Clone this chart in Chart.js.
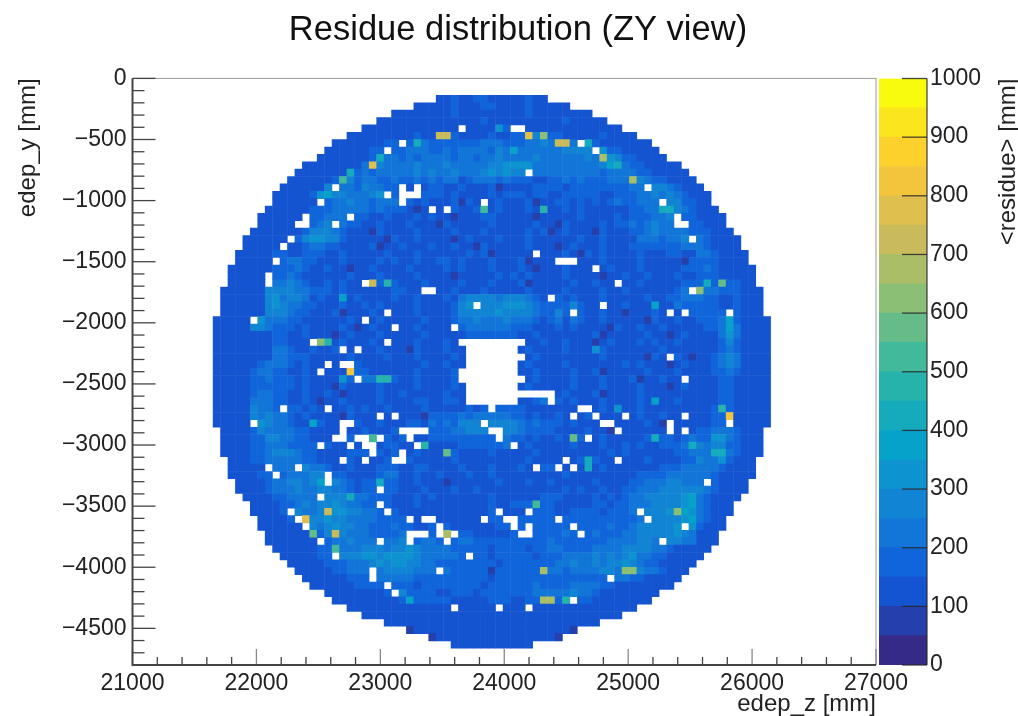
<!DOCTYPE html>
<html>
<head>
<meta charset="utf-8">
<title>Residue distribution (ZY view)</title>
<script src="https://cdn.jsdelivr.net/npm/chart.js@4"></script>
<style>
  html, body { margin: 0; padding: 0; background: #fff; }
  #wrap { position: relative; width: 1018px; height: 716px; overflow: hidden; }
  canvas { filter: blur(0.5px); }
  #mapChart { position: absolute; left: 0; top: 0; }
  #barChart { position: absolute; left: 879px; top: 0; }
</style>
</head>
<body>
<div id="wrap">
  <canvas id="mapChart" width="1018" height="716"></canvas>
  <canvas id="barChart" width="139" height="716"></canvas>
</div>
<script>
// Bin layout of the histogram
const zStart = 21650, zBin = 60;
const yStart = -139, yBin = 60.33;

const xTicks = [21000, 22000, 23000, 24000, 25000, 26000, 27000];
const yTicks = [0, -500, -1000, -1500, -2000, -2500, -3000, -3500, -4000, -4500];
const barTicks = [0, 100, 200, 300, 400, 500, 600, 700, 800, 900, 1000];

// 20 contour colours, lowest first
const palette = [
  "#352a87", "#253fab", "#1554d0", "#1065db", "#1275d8", "#1284d4", "#0c93d0", "#07a2ca", "#15abbc", "#26b3ac",
  "#41b99a", "#66bc88", "#8bbf75", "#aabd67", "#c9bb5c", "#dfbf4d", "#f2c53c", "#fdd12c", "#fbe61d", "#f9fb0e"
];

// <residue> per cell, one string per row from the top: base-20 contour index, "." = empty.
// Spaces only split the columns in groups of five.
const rows = [
  "..... ..... ..... ..... ..... ..... 22322 33222 22322 ..... ..... ..... ..... ..... .....",
  "..... ..... ..... ..... ..... ..222 22322 23322 22322 222.. ..... ..... ..... ..... .....",
  "..... ..... ..... ..... ....2 22222 22322 22222 22322 22222 2.... ..... ..... ..... .....",
  "..... ..... ..... ..... ..222 22222 22222 23222 22222 22322 222.. ..... ..... ..... .....",
  "..... ..... ..... ..... 22222 22222 222.2 22263 ..222 22222 22222 ..... ..... ..... .....",
  "..... ..... ..... ...22 22222 22322 ee322 22322 33f5c 33222 22322 22... ..... ..... .....",
  "..... ..... ..... .2222 22233 .3843 33333 34443 33445 4ee4. 83222 2222. ..... ..... .....",
  "..... ..... ..... 22222 233.3 34443 34344 44354 74444 44555 5.633 22222 ..... ..... .....",
  "..... ..... ....2 22222 23844 34344 44344 34454 44454 44444 54d65 33222 2.... ..... .....",
  "..... ..... ..222 22222 4f544 44544 45444 44556 66644 44444 44578 43322 222.. ..... .....",
  "..... ..... .2222 22283 43444 44545 44544 45656 55.44 44444 44344 44332 2222. ..... .....",
  "..... ..... 22222 23a53 44334 33434 34423 44434 33322 33434 33344 4d543 32222 ..... .....",
  "..... ....2 22222 5.443 54433 .2.23 32232 22312 22233 33233 33333 344.5 54322 2.... .....",
  "..... ...22 22236 75544 456.3 ...33 32322 22323 33233 22333 33223 33445 45432 22... .....",
  "..... ...22 2222. 34454 43444 .3232 22313 2.232 22312 23323 23234 33444 .5533 22... .....",
  "..... ..222 22233 34444 43433 3212. 2.322 3a232 22329 22323 22222 23344 88543 222.. .....",
  "..... .2222 22.33 444.3 32232 22323 22122 23322 22212 22223 22223 23334 45.33 2222. .....",
  "..... .2222 2..34 5.433 22322 23222 13222 22322 22232 21322 22323 34345 44..3 3222. .....",
  "..... 22222 22355 54322 21322 22322 22322 23222 22323 12322 21322 23345 44443 33222 .....",
  "....2 22222 .3566 55322 22213 22322 22123 22232 22322 22223 22322 22444 3445. 43222 2....",
  "....2 2222. 22344 33222 23122 32223 22322 13222 22322 21232 22322 23333 33344 43222 2....",
  "...22 22233 22333 22322 22232 22322 22223 23122 222.2 22321 32322 22322 23322 44322 22...",
  "...22 222.3 44332 22322 22323 22322 33232 22322 23122 2...2 22322 22322 22213 33322 22...",
  "..222 22233 34322 32212 23222 23222 23232 22322 23212 22322 2.232 22322 22233 34322 222..",
  "..222 22.33 43222 22232 22322 22322 22122 22232 32322 22322 22122 32232 22322 33322 222..",
  "..222 22.44 54322 32322 .e393 22232 22232 22322 23122 22232 2322. 22322 22233 383b3 322..",
  ".2222 22555 54433 32322 22223 322.. 22322 23222 22322 22322 22322 32222 2234. c4433 3222.",
  ".2222 22564 55423 22723 22223 22322 23245 55545 55432 .3232 22322 22232 23344 43322 3222.",
  ".2222 22565 44332 22322 32322 22322 22356 .5556 66543 33353 22.22 32227 22433 33322 3222.",
  ".2222 22555 43322 23122 232.2 22322 22355 55565 55543 353.3 22322 12223 2.2.3 3333. 3222.",
  "22222 .6444 33222 22232 .2322 22232 22344 54445 44432 34243 22322 22213 22322 33347 32222",
  "22222 55433 32322 22321 2322. 22322 22.34 44444 33322 23232 22213 22322 32222 23347 42222",
  "22222 22233 22322 21232 22322 22232 22223 33333 32232 22222 23122 22232 21232 22246 42222",
  "22222 22233 222.c 92322 232.2 22322 232.. ..... ..223 22322 21232 22323 22322 22235 32222",
  "22222 22244 32232 23.2. 22322 21322 2322. ..... .2322 22322 26322 22222 32222 22234 32222",
  "22222 22244 33322 22232 22232 22322 2232. ..... ..232 22222 22322 22213 2.321 22345 42222",
  "22222 23444 32322 .2..3 22222 22232 2322. ..... .2322 22322 22222 32322 21232 22345 42222",
  "22222 34433 2232. 222g3 32222 22322 223.. ..... .2232 22232 23122 22232 22322 22334 32222",
  "22222 33433 32322 2263. 44993 22322 223.. ..... ..232 22232 22322 23122 322.2 22233 22222",
  "22222 33333 32322 21322 22322 22322 2232. ..... .2322 22232 22322 22322 21232 22233 22222",
  "22222 34433 22322 32122 22322 32222 2322. ..... ..... .2322 23122 22322 22222 22233 22222",
  "22222 44433 22321 22322 22322 22332 2332. ..... .2234 .3232 22322 22327 22322 22233 22222",
  "22222 5443. 33232 .2232 32232 22232 22223 23.33 33222 2222. .2326 22322 22222 22393 22222",
  "22222 54544 32322 22132 22.2. 22213 33343 44444 33232 232.2 3.222 .2322 322.2 2233g 22222",
  "22222 .6544 32273 22..3 22322 23324 34355 5.555 54343 33232 22..2 22232 1.222 2233. 22222",
  ".2222 35444 43322 22.22 32223 ....3 33445 55..5 54333 32222 3221. 22222 2.2.2 33444 3222.",
  ".2222 33554 43322 2..3. .a.32 3.223 33333 333.4 33232 232b3 .2322 22238 33234 33664 3222.",
  ".2222 33444 3333. 322.2 ..233 22.92 22233 33334 .2322 22232 22322 32322 33348 54553 3222.",
  ".2222 33455 54332 22233 3.323 .2322 2b322 22322 22232 22222 22232 32222 22334 44884 3222.",
  "..222 33444 44332 22.32 .223. .3222 22322 22222 22322 22.23 8322. 22232 22233 54463 222..",
  "..222 22.44 4.544 32232 22333 22332 22232 22322 232.3 3.2.2 82322 22222 33344 44432 222..",
  "..222 233.3 44455 .3322 22344 22322 32223 22322 22222 22322 22222 22333 34444 44322 222..",
  "...22 22344 55457 .5432 33833 22322 21222 22232 22322 32222 23222 23344 45544 4.322 22...",
  "...22 22344 45445 54432 33.33 22232 22322 32222 22222 22323 22322 33444 55555 54322 22...",
  "....2 22233 4444. 55584 43332 22323 22222 22322 22223 33222 23232 34455 55567 43222 2....",
  "..... 22223 34545 56544 33.32 22322 22222 22322 333a3 32222 23323 34445 55567 43222 .....",
  "..... 22223 .5445 e6655 443.3 22222 22222 223.2 22.33 32233 33233 34.55 56c76 43222 .....",
  "..... .2222 3.f55 65544 44333 3.2.. 22222 2.33. .3333 3.333 33333 334.5 55567 4322. .....",
  "..... .2222 22.54 56554 43334 33223 .3222 22233 .3.33 333.3 33343 34555 556.6 3222. .....",
  "..... ..222 222b3 5e544 43333 4...3 .d.33 22222 3..33 3343. 34333 44555 55654 222.. .....",
  "..... ..222 2222. 34454 44.44 5.344 3.344 33333 33333 43333 33344 44554 .5544 222.. .....",
  "..... ...22 22223 3a444 55545 56544 44333 33233 33233 44333 34444 55554 43222 22... .....",
  "..... ....2 22223 3.555 66566 66544 4443. 33233 33323 33444 45454 56443 32222 2.... .....",
  "..... ..... 22222 33344 45656 65544 33333 33323 33333 34454 45455 65433 22222 ..... .....",
  "..... ..... .2222 23344 4.455 55444 .4333 33133 3333d 44344 44554 cc544 3222. ..... .....",
  "..... ..... ..222 22233 3.444 44333 33333 33233 33333 33333 333.4 43322 222.. ..... .....",
  "..... ..... ...22 22223 333.3 33233 33333 32333 33343 33344 44332 22222 22... ..... .....",
  "..... ..... ..... 22222 2223. 53333 22333 23333 33344 44454 43222 22222 ..... ..... .....",
  "..... ..... ..... .2222 22222 37333 33222 22333 2233d d39.3 32222 2222. ..... ..... .....",
  "..... ..... ..... ...22 22222 22222 22.22 222.2 22.22 22222 22222 22... ..... ..... .....",
  "..... ..... ..... ..... 22222 22222 22222 22222 22222 22222 22222 ..... ..... ..... .....",
  "..... ..... ..... ..... ...22 22222 22222 22222 22222 22222 22... ..... ..... ..... .....",
  "..... ..... ..... ..... ..... .1222 22222 22222 22222 2221. ..... ..... ..... ..... .....",
  "..... ..... ..... ..... ..... ....1 22222 22222 22222 21... ..... ..... ..... ..... .....",
  "..... ..... ..... ..... ..... ..... ..222 22222 222.. ..... ..... ..... ..... ..... ....."
];

// Cell centres in data units, one point per filled cell
const cells = [];
rows.forEach((row, r) => {
  row.replace(/ /g, "").split("").forEach((ch, c) => {
    if (ch === ".") return;
    cells.push({
      x: zStart + (c + 0.5) * zBin,
      y: yStart - (r + 0.5) * yBin,
      v: (parseInt(ch, 20) + 0.5) * 50
    });
  });
});

const font = "'Liberation Sans', Arial, sans-serif";
const textColor = "#222";

// ROOT style ticks point inside the frame, Chart.js can't do that on its own
const frameTicks = {
  id: "frameTicks",
  afterDatasetsDraw(chart) {
    const { ctx, chartArea: a, scales } = chart;
    ctx.save();
    ctx.strokeStyle = "#999";
    ctx.lineWidth = 1;
    ctx.strokeRect(a.left, a.top, a.right - a.left, a.bottom - a.top);

    ctx.strokeStyle = "#444";
    ctx.lineWidth = 1.3;
    for (let v = -4800; v <= 0; v += 100) {
      const py = scales.y.getPixelForValue(v);
      const len = v % 500 === 0 ? 23 : 12;
      ctx.beginPath();
      ctx.moveTo(a.left, py);
      ctx.lineTo(a.left + len, py);
      ctx.stroke();
    }
    for (let v = 21000; v <= 27000; v += 200) {
      const px = scales.x.getPixelForValue(v);
      const len = v % 1000 === 0 ? 16 : 8;
      ctx.strokeStyle = v % 1000 === 0 ? "#888" : "#444";
      ctx.beginPath();
      ctx.moveTo(px, a.bottom);
      ctx.lineTo(px, a.bottom - len);
      ctx.stroke();
    }

    ctx.strokeStyle = "#444";
    ctx.lineWidth = 2;
    ctx.beginPath();
    ctx.moveTo(a.left, a.top);
    ctx.lineTo(a.left, a.bottom);
    ctx.lineTo(a.right, a.bottom);
    ctx.stroke();
    ctx.restore();
  }
};

new Chart(document.getElementById("mapChart"), {
  type: "scatter",
  data: {
    datasets: [{
      label: "residue",
      data: cells,
      pointStyle: "rect",
      pointRadius: 5.6,
      pointBorderWidth: 0,
      pointBackgroundColor: c => palette[Math.floor(c.raw.v / 50)]
    }]
  },
  options: {
    responsive: false,
    animation: false,
    events: [],
    layout: { padding: { left: 18 } },
    plugins: {
      legend: { display: false },
      tooltip: { enabled: false },
      title: {
        display: true,
        text: "Residue distribution (ZY view)",
        color: "#111",
        font: { family: font, size: 34.5, weight: "normal" },
        padding: { top: 10, bottom: 27 }
      }
    },
    scales: {
      x: {
        type: "linear",
        min: 21000,
        max: 27000,
        afterBuildTicks: s => { s.ticks = xTicks.map(value => ({ value })); },
        afterFit: s => { s.height = 51; },
        grid: { display: false, drawTicks: false },
        border: { display: false },
        ticks: {
          color: textColor,
          padding: 5,
          maxRotation: 0,
          autoSkip: false,
          font: { family: font, size: 23 },
          callback: v => String(v)
        },
        title: {
          display: true,
          text: "edep_z [mm]",
          align: "end",
          color: textColor,
          padding: { top: 0, bottom: -3 },
          font: { family: font, size: 24 }
        }
      },
      y: {
        type: "linear",
        min: -4800,
        max: 0,
        afterBuildTicks: s => { s.ticks = yTicks.map(value => ({ value })); },
        afterFit: s => { s.width = 114.5; },
        grid: { display: false, drawTicks: false },
        border: { display: false },
        ticks: {
          color: textColor,
          padding: 6,
          autoSkip: false,
          font: { family: font, size: 23 },
          callback: v => (v < 0 ? "\u2212" + (-v) : String(v))
        },
        title: {
          display: true,
          text: "edep_y [mm]",
          align: "end",
          color: textColor,
          padding: { top: -4, bottom: 0 },
          font: { family: font, size: 24 }
        }
      },
      // empty axis, only holds the room the colour bar sits in
      room: {
        type: "linear",
        position: "right",
        afterFit: s => { s.width = 142; },
        grid: { display: false, drawTicks: false },
        border: { display: false },
        ticks: { display: false }
      }
    }
  },
  plugins: [frameTicks]
});

// Colour bar: one stacked bar per contour
const barFrame = {
  id: "barFrame",
  afterDatasetsDraw(chart) {
    const { ctx, chartArea: a, scales } = chart;
    ctx.save();
    ctx.strokeStyle = "rgba(40,40,40,0.85)";
    ctx.lineWidth = 1.3;
    barTicks.forEach(v => {
      const py = scales.y.getPixelForValue(v);
      ctx.beginPath();
      ctx.moveTo(a.right - 25, py);
      ctx.lineTo(a.right, py);
      ctx.stroke();
    });
    ctx.beginPath();
    ctx.moveTo(a.right, a.top);
    ctx.lineTo(a.right, a.bottom);
    ctx.stroke();

    ctx.translate(129, a.top);
    ctx.rotate(-Math.PI / 2);
    ctx.fillStyle = textColor;
    ctx.font = "24px " + font;
    ctx.textAlign = "right";
    ctx.textBaseline = "middle";
    ctx.fillText("<residue> [mm]", 0, 0);
    ctx.restore();
  }
};

new Chart(document.getElementById("barChart"), {
  type: "bar",
  data: {
    labels: [""],
    datasets: palette.map((color, i) => ({
      label: String(i * 50),
      data: [50],
      backgroundColor: color,
      barPercentage: 1,
      categoryPercentage: 1
    }))
  },
  options: {
    responsive: false,
    animation: false,
    events: [],
    layout: { padding: { top: 78.5, bottom: 51 } },
    plugins: { legend: { display: false }, tooltip: { enabled: false } },
    scales: {
      x: { stacked: true, display: false },
      y: {
        stacked: true,
        position: "right",
        min: 0,
        max: 1000,
        afterBuildTicks: s => { s.ticks = barTicks.map(value => ({ value })); },
        afterFit: s => { s.width = 91; },
        grid: { display: false, drawTicks: false },
        border: { display: false },
        ticks: {
          color: textColor,
          padding: 3,
          autoSkip: false,
          font: { family: font, size: 23 },
          callback: v => String(v)
        }
      }
    }
  },
  plugins: [barFrame]
});
</script>
</body>
</html>
